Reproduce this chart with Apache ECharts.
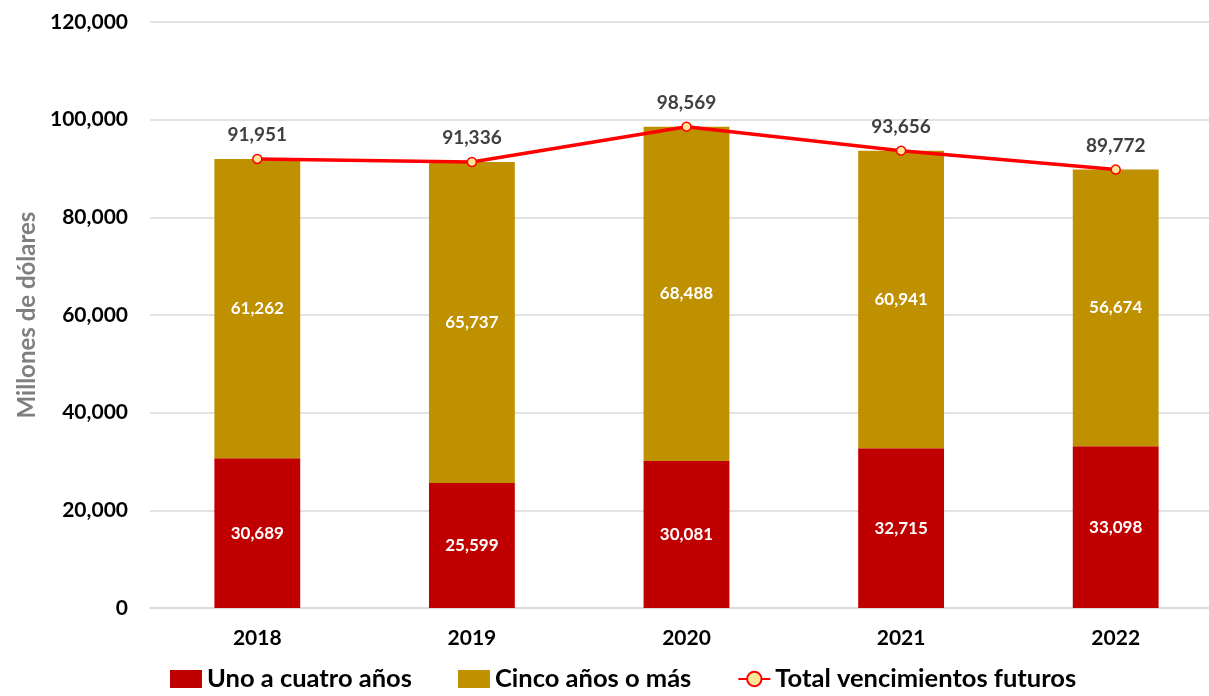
<!DOCTYPE html>
<html><head><meta charset="utf-8">
<script src="https://cdn.jsdelivr.net/npm/echarts@6/dist/echarts.min.js"></script>
<style>html,body{margin:0;padding:0;background:#fff}#c{width:1209px;height:696px}</style>
</head><body><div id="c"></div>
<script>
const categories = ['2018','2019','2020','2021','2022'];
const unoACuatro = [30689, 25599, 30081, 32715, 33098];
const cincoOMas = [61262, 65737, 68488, 60941, 56674];
const total = [91951, 91336, 98569, 93656, 89772];
const yTicks = [0, 20000, 40000, 60000, 80000, 100000, 120000];

const fmt = v => v.toLocaleString('en-US');
const FONT = 'Lato';
const chart = echarts.init(document.getElementById('c'));
chart.setOption({
  animation: false,
  textStyle: { fontFamily: FONT },
  grid: { left: 150, top: 22, bottom: 88, right: -14, containLabel: false, outerBoundsMode: 'none' },
  legend: {
    bottom: -1, left: 165, itemGap: 46, itemWidth: 32, itemHeight: 18,
    textStyle: { fontSize: 25.5, fontWeight: 'bold', color: '#000', fontFamily: FONT },
    data: [
      { name: 'Uno a cuatro años', icon: 'rect' },
      { name: 'Cinco años o más', icon: 'rect' },
      { name: 'Total vencimientos futuros' }
    ]
  },
  xAxis: {
    type: 'category', data: categories,
    axisLine: { lineStyle: { color: '#d9d9d9', width: 1.5 } },
    axisTick: { show: false },
    axisLabel: { fontSize: 21, fontWeight: 'bold', color: '#000', margin: 20 }
  },
  yAxis: {
    type: 'value', min: 0, max: 120000, interval: 20000,
    name: 'Millones de dólares', nameLocation: 'middle', nameGap: 110,
    nameTextStyle: { fontSize: 24, fontWeight: 'bold', color: '#7f7f7f' },
    axisLabel: { fontSize: 21, fontWeight: 'bold', color: '#000', margin: 22, formatter: v => fmt(v) },
    splitLine: { lineStyle: { color: '#d9d9d9', width: 1.5 } },
    axisLine: { show: false }, axisTick: { show: false }
  },
  series: [
    {
      name: 'Uno a cuatro años', type: 'bar', stack: 'a', data: unoACuatro, barWidth: '40%',
      itemStyle: { color: '#c00000' },
      label: { show: true, position: 'inside', color: '#fff', fontSize: 17, fontWeight: 'bold', formatter: p => fmt(p.value) }
    },
    {
      name: 'Cinco años o más', type: 'bar', stack: 'a', data: cincoOMas, barWidth: '40%',
      itemStyle: { color: '#bf9000' },
      label: { show: true, position: 'inside', color: '#fff', fontSize: 17, fontWeight: 'bold', formatter: p => fmt(p.value) }
    },
    {
      name: 'Total vencimientos futuros', type: 'line', data: total,
      symbol: 'circle', symbolSize: 9,
      lineStyle: { color: '#ff0000', width: 3.5 },
      itemStyle: { color: '#ffe699', borderColor: '#ff0000', borderWidth: 1.5 },
      label: { show: true, position: 'top', distance: 9, color: '#404040', fontSize: 19, fontWeight: 'bold', formatter: p => fmt(p.value) },
      z: 5
    }
  ]
});
</script></body></html>
